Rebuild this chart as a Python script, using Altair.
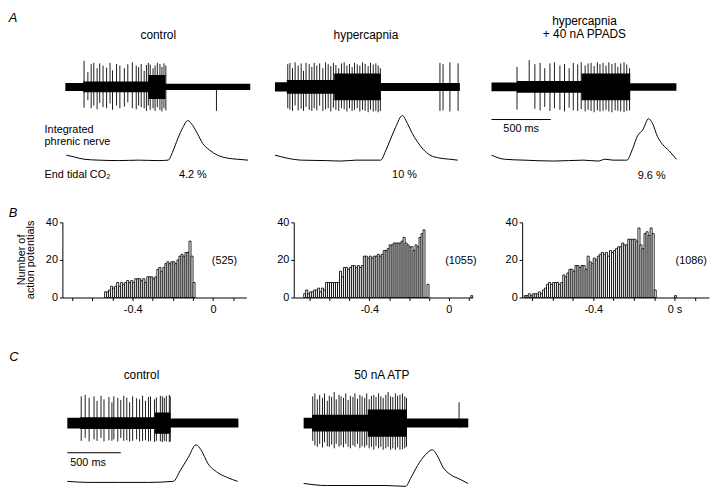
import altair as alt
import pandas as pd

W, H = 712, 491   # chart size (page is 720x499 with an 8px margin)
M = 8

def px(v):
    return v - M

FONT = "Liberation Sans, Arial, DejaVu Sans, sans-serif"

# ---------------- A : nerve recordings (time in ms, amplitude -1..1) ----------------
A1_band_t = [0, 150, 700, 845, 1560]
A1_band_hw = [0.15, 0.2, 0.45, 0.12, 0.12]
A1_sp_t = [158, 190, 218, 240, 268, 290, 318, 348, 377, 398, 432, 460, 498, 527, 565,
           598, 618, 640, 665, 684, 700, 716, 740, 757, 776, 798, 815, 832, 848, 1275]
A1_sp_up = [0.98, 0.55, 0.85, 0.9, 0.7, 0.88, 0.8, 0.72, 0.9, 0.62, 0.86, 0.8, 0.7, 0.85, 0.92,
            0.8, 0.74, 0.86, 0.6, 0.82, 0.9, 0.84, 0.7, 0.8, 0.9, 0.86, 0.75, 0.88, 0.8, 0.1]
A1_sp_dn = [-0.78, -0.5, -0.8, -0.7, -0.84, -0.6, -0.76, -0.8, -0.62, -0.86, -0.7, -0.8, -0.74, -0.58, -0.8,
            -0.84, -0.7, -0.76, -0.8, -0.9, -0.7, -0.86, -0.8, -0.9, -0.76, -0.86, -0.92, -0.8, -0.88, -0.9]
A1_int_t = [8, 75, 158, 283, 450, 617, 783, 867, 908, 950, 992, 1033, 1075, 1117, 1158, 1217, 1283, 1367, 1450, 1542]
A1_int_v = [0.13, 0.09, 0.04, 0.02, 0.01, 0.02, 0.01, 0.02, 0.22, 0.50, 0.74, 0.89, 0.78, 0.59, 0.39, 0.24, 0.13, 0.065, 0.04, 0.02]

A2_band_t = [0, 100, 500, 892, 1560]
A2_band_hw = [0.17, 0.26, 0.5, 0.15, 0.15]
A2_sp_t = [108, 126, 148, 170, 196, 221, 241, 262, 289, 311, 331, 353, 377, 404, 427, 449, 471, 493, 514, 538,
           561, 584, 607, 629, 651, 671, 694, 716, 739, 761, 786, 806, 829, 851, 871, 889, 1392, 1418, 1476, 1545]
A2_sp_up = [0.85, 0.9, 0.7, 0.92, 0.8, 0.88, 0.6, 0.9, 0.85, 0.75, 0.9, 0.8, 0.88, 0.7, 0.92, 0.85, 0.78, 0.9, 0.82, 0.7,
            0.88, 0.92, 0.8, 0.86, 0.74, 0.9, 0.84, 0.8, 0.92, 0.86, 0.78, 0.9, 0.84, 0.88, 0.8, 0.7, 0.9, 0.85, 0.92, 0.88]
A2_sp_dn = [-0.8, -0.85, -0.9, -0.7, -0.88, -0.82, -0.9, -0.75, -0.86, -0.9, -0.8, -0.88, -0.7, -0.9, -0.84, -0.8, -0.92, -0.78, -0.86, -0.9,
            -0.8, -0.84, -0.92, -0.8, -0.9, -0.86, -0.8, -0.92, -0.86, -0.9, -0.95, -0.85, -0.92, -0.9, -0.95, -0.9, -0.9, -0.88, -0.92, -0.9]
A2_int_t = [0, 100, 225, 433, 558, 683, 892, 933, 975, 1017, 1075, 1117, 1158, 1200, 1250, 1308, 1392, 1475, 1542]
A2_int_v = [0.13, 0.065, 0.02, 0.01, 0.0, 0.02, 0.02, 0.22, 0.48, 0.74, 1.0, 0.83, 0.61, 0.43, 0.26, 0.13, 0.065, 0.04, 0.02]

A3_band_t = [0, 215, 760, 1170, 1560]
A3_band_hw = [0.16, 0.22, 0.5, 0.14, 0.14]
A3_sp_t = [215, 318, 366, 410, 449, 493, 531, 577, 616, 655, 690, 727, 757, 790, 815,
           840, 866, 893, 915, 941, 966, 990, 1016, 1043, 1066, 1090, 1118, 1141, 1165]
A3_sp_up = [0.75, 1.0, 0.85, 0.9, 0.7, 0.88, 0.92, 0.8, 0.86, 0.7, 0.9, 0.84, 0.92, 0.8, 0.88,
            0.9, 0.78, 0.92, 0.85, 0.9, 0.8, 0.92, 0.86, 0.9, 0.75, 0.88, 0.92, 0.84, 0.7]
A3_sp_dn = [-0.85, -0.1, -0.82, -0.88, -0.75, -0.9, -0.8, -0.86, -0.92, -0.78, -0.88, -0.9, -0.84, -0.92, -0.86,
            -0.9, -0.95, -0.88, -0.92, -0.9, -0.86, -0.92, -0.95, -0.88, -0.9, -0.92, -0.95, -0.9, -0.88]
A3_int_t = [0, 108, 275, 525, 775, 900, 958, 1025, 1142, 1192, 1233, 1275, 1325, 1358, 1400, 1442, 1500, 1560]
A3_int_v = [0.13, 0.04, 0.02, 0.0, 0.02, 0.0, 0.04, 0.02, 0.02, 0.28, 0.56, 0.68, 0.93, 0.83, 0.54, 0.37, 0.22, 0.04]

# ---------------- C : nerve recordings ----------------
C1_band_t = [0, 120, 820, 965, 1600]
C1_band_hw = [0.18, 0.2, 0.36, 0.15, 0.15]
C1_sp_t = [130, 167, 204, 250, 278, 315, 343, 389, 417, 435, 472, 500, 528, 556, 583,
           611, 648, 676, 704, 731, 759, 778, 815, 833, 870, 889, 907, 926, 954, 963]
C1_sp_up = [0.9, 0.95, 0.85, 0.9, 0.75, 0.92, 0.8, 0.88, 0.7, 0.9, 0.85, 0.78, 0.92, 0.86, 0.7,
            0.9, 0.84, 0.8, 0.92, 0.75, 0.88, 0.9, 0.8, 0.86, 0.92, 0.9, 0.85, 0.92, 0.95, 0.9]
C1_sp_dn = [-0.6, -0.5, -0.62, -0.55, -0.6, -0.5, -0.62, -0.58, -0.6, -0.55, -0.62, -0.5, -0.6, -0.58, -0.62,
            -0.6, -0.55, -0.62, -0.6, -0.58, -0.62, -0.6, -0.64, -0.6, -0.62, -0.64, -0.6, -0.62, -0.64, -0.62]
C1_int_t = [0, 204, 481, 759, 991, 1056, 1130, 1204, 1250, 1315, 1407, 1500, 1593]
C1_int_v = [0.12, 0.095, 0.095, 0.095, 0.12, 0.38, 0.69, 1.0, 0.88, 0.55, 0.33, 0.21, 0.12]

C2_band_t = [0, 80, 600, 965, 1540]
C2_band_hw = [0.18, 0.28, 0.46, 0.15, 0.15]
C2_sp_t = [85, 105, 128, 150, 176, 195, 221, 240, 262, 286, 305, 331, 350, 373, 394, 416, 437, 461, 480, 504, 526,
           547, 571, 590, 613, 634, 656, 677, 701, 722, 744, 769, 790, 813, 834, 858, 879, 901, 924, 946, 962, 1454]
C2_sp_up = [0.9, 1.0, 0.8, 0.95, 0.85, 1.0, 0.75, 0.92, 0.88, 1.05, 0.8, 0.95, 0.9, 0.85, 1.0, 0.78, 0.92, 0.88, 1.0, 0.82, 0.95,
            0.9, 0.85, 1.0, 0.8, 0.92, 0.95, 0.88, 1.0, 0.9, 0.85, 0.95, 1.05, 0.9, 0.88, 1.0, 0.92, 0.95, 1.0, 0.9, 0.85, 0.7]
C2_sp_dn = [-0.6, -0.75, -0.8, -0.7, -0.82, -0.65, -0.78, -0.8, -0.72, -0.85, -0.7, -0.8, -0.75, -0.82, -0.7, -0.8, -0.85, -0.75, -0.8, -0.7, -0.85,
            -0.78, -0.82, -0.75, -0.85, -0.8, -0.9, -0.78, -0.85, -0.8, -0.9, -0.85, -0.8, -0.9, -0.85, -0.9, -0.82, -0.9, -0.88, -0.85, -0.8, -0.15]
C2_int_t = [0, 213, 491, 769, 954, 1000, 1065, 1139, 1204, 1250, 1306, 1370, 1463, 1537]
C2_int_v = [0.07, 0.02, 0.02, 0.02, 0.0, 0.19, 0.5, 0.76, 0.88, 0.74, 0.45, 0.29, 0.17, 0.07]

SCALEBAR_MS = [0, 500]

# ---------------- B : histograms (bin width 0.01 s) ----------------
BIN = 0.01
B1_start = -0.54
B1_n = [3, 3, 4, 6, 5, 6, 8, 6, 8, 7, 8, 9, 8, 9, 8, 10, 10, 10, 9, 10, 8, 11, 11, 11, 10, 11, 15, 16, 14, 16,
        18, 19, 18, 19, 19, 18, 20, 22, 23, 22, 24, 24, 30, 22, 8]
B2_start = -0.73
B2_n = [2, 4, 2, 3, 3, 4, 4, 5, 3, 5, 4, 8, 8, 8, 8, 8, 8, 8, 14, 11, 16, 16, 15, 16, 17, 17, 16, 17, 16, 17,
        22, 22, 21, 22, 21, 22, 22, 23, 22, 23, 25, 25, 26, 28, 28, 29, 29, 29, 29, 30, 32,
        29, 28, 27, 27, 25, 28, 27, 32, 34, 36, 0, 7]
B2_extra_t, B2_extra_n = [0.11], [1]
B3_start = -0.74
B3_n = [1, 1, 2, 1, 2, 2, 2, 3, 2, 4, 5, 7, 8, 7, 8, 8, 8, 7, 8, 12, 11, 13, 15, 15, 14, 17, 17, 16, 17, 17, 15,
        22, 19, 18, 21, 20, 22, 23, 24, 23, 24, 22, 25, 24, 25, 26, 27, 27, 29, 28, 28, 31, 31, 31, 31, 30, 37,
        28, 26, 34, 35, 33, 37, 34, 4]
B3_extra_t, B3_extra_n = [0.0], [1]
B_totals = ["(525)", "(1055)", "(1086)"]
B_ticks = [-0.7, -0.6, -0.5, -0.4, -0.3, -0.2, -0.1, 0.0, 0.1]

# ---------------- builders ----------------
def trace(band_t, band_hw, sp_t, up, dn, int_t, int_v, xdom, xr, yr, yir):
    xs = alt.Scale(domain=xdom, range=[px(xr[0]), px(xr[1])], nice=False)
    ys = alt.Scale(domain=[-1, 1], range=[px(yr[0]), px(yr[1])], nice=False)
    yis = alt.Scale(domain=[0, 1], range=[px(yir[0]), px(yir[1])], nice=False)
    band = pd.DataFrame({"t": band_t, "hi": band_hw})
    band["lo"] = -band["hi"]
    sp = pd.DataFrame({"t": sp_t, "up": up, "dn": dn})
    ig = pd.DataFrame({"t": int_t, "v": int_v})
    l1 = alt.Chart(band).mark_area(color="black", interpolate="step-after").encode(
        x=alt.X("t:Q", scale=xs, axis=None),
        y=alt.Y("lo:Q", scale=ys, axis=None), y2="hi:Q")
    l2 = alt.Chart(sp).mark_rule(color="black", strokeWidth=0.9).encode(
        x=alt.X("t:Q", scale=xs, axis=None),
        y=alt.Y("dn:Q", scale=ys, axis=None), y2="up:Q")
    l3 = alt.Chart(ig).mark_line(color="black", strokeWidth=1, interpolate="monotone").encode(
        x=alt.X("t:Q", scale=xs, axis=None),
        y=alt.Y("v:Q", scale=yis, axis=None))
    return [l1, l2, l3], xs

def hist(start, counts, extra_t, extra_n, xdom, xr, zero_label):
    xs = alt.Scale(domain=xdom, range=[px(xr[0]), px(xr[1])], nice=False)
    ys = alt.Scale(domain=[0, 40], range=[px(298), px(222)], nice=False)
    t0 = [round(start + i * BIN, 3) for i in range(len(counts))] + list(extra_t)
    n = list(counts) + list(extra_n)
    df = pd.DataFrame({"t0": t0, "n": n})
    df["t1"] = df["t0"] + BIN
    df["z"] = 0
    lab = ("abs(datum.value) < 1e-6 ? '%s' : (abs(datum.value + 0.4) < 1e-6 ? '-0.4' : '')" % zero_label)
    return alt.Chart(df).mark_bar(fill="white", stroke="black", strokeWidth=0.85).encode(
        x=alt.X("t0:Q", scale=xs,
                axis=alt.Axis(orient="bottom", offset=px(298) - H, values=B_ticks, labelExpr=lab,
                              title=None, grid=False, tickSize=3, labelPadding=3,
                              domainColor="black", tickColor="black", labelColor="black",
                              labelFont=FONT, labelFontSize=11, labelFlush=False)),
        x2="t1:Q",
        y=alt.Y("n:Q", scale=ys,
                axis=alt.Axis(orient="left", offset=-px(xr[0]), values=[0, 20, 40],
                              title=None, grid=False, tickSize=3, labelPadding=2,
                              domainColor="black", tickColor="black", labelColor="black",
                              labelFont=FONT, labelFontSize=11, labelFlush=False)),
        y2="z:Q")

def txt(s, x, y, size=11, align="center", italic=False, angle=0):
    kw = dict(text=s, font=FONT, fontSize=size, align=align, baseline="middle", color="black")
    if italic:
        kw["fontStyle"] = "italic"
    if angle:
        kw["angle"] = angle
    return alt.Chart(pd.DataFrame({"k": [s]})).mark_text(**kw).encode(
        x=alt.value(px(x)), y=alt.value(px(y)))

def scalebar(xs, y):
    df = pd.DataFrame({"a": [SCALEBAR_MS[0]], "b": [SCALEBAR_MS[1]]})
    return alt.Chart(df).mark_rule(color="black", strokeWidth=1).encode(
        x=alt.X("a:Q", scale=xs, axis=None), x2="b:Q", y=alt.value(px(y)))

layers = []
A_dom = [0, 1560]
C_dom = [0, 1600]
a1, _ = trace(A1_band_t, A1_band_hw, A1_sp_t, A1_sp_up, A1_sp_dn, A1_int_t, A1_int_v, A_dom, [66, 253], [112, 58], [160, 114])
a2, _ = trace(A2_band_t, A2_band_hw, A2_sp_t, A2_sp_up, A2_sp_dn, A2_int_t, A2_int_v, A_dom, [278, 465], [112, 58], [160, 114])
a3, xa3 = trace(A3_band_t, A3_band_hw, A3_sp_t, A3_sp_up, A3_sp_dn, A3_int_t, A3_int_v, A_dom, [497, 684], [112, 58], [160, 114])
c1, xc1 = trace(C1_band_t, C1_band_hw, C1_sp_t, C1_sp_up, C1_sp_dn, C1_int_t, C1_int_v, C_dom, [68, 241], [455, 395], [489, 447])
c2, _ = trace(C2_band_t, C2_band_hw, C2_sp_t, C2_sp_up, C2_sp_dn, C2_int_t, C2_int_v, C_dom, [307, 480], [455, 395], [489, 447])
layers += a1 + a2 + a3 + c1 + c2
layers.append(scalebar(xa3, 118))
layers.append(scalebar(xc1, 455))

layers.append(hist(B1_start, B1_n, [], [], [-0.75, 0.165], [63, 249], "0"))
layers.append(hist(B2_start, B2_n, B2_extra_t, B2_extra_n, [-0.78, 0.12], [297, 478], "0"))
layers.append(hist(B3_start, B3_n, B3_extra_t, B3_extra_n, [-0.75, 0.17], [528, 717], "0 s"))

texts = [
    txt("A", 13, 15, 13, italic=True),
    txt("control", 160, 33, 12),
    txt("hypercapnia", 370, 33, 12),
    txt("hypercapnia", 591, 18, 12),
    txt("+ 40 nA PPADS", 591, 32, 12),
    txt("500 ms", 527, 128, 11),
    txt("Integrated", 45, 129, 11, align="left"),
    txt("phrenic nerve", 45, 141, 11, align="left"),
    txt("End tidal CO\u2082", 45, 174, 11, align="left"),
    txt("4.2 %", 195, 174, 11),
    txt("10 %", 409, 174, 11),
    txt("9.6 %", 659, 175, 11),
    txt("B", 13, 213, 13, italic=True),
    txt("Number of", 22, 260, 11, angle=270),
    txt("action potentials", 31, 260, 11, angle=270),
    txt(B_totals[0], 227, 261, 11),
    txt(B_totals[1], 466, 261, 11),
    txt(B_totals[2], 699, 261, 11),
    txt("C", 14, 358, 13, italic=True),
    txt("control", 143, 376, 12),
    txt("50 nA ATP", 386, 376, 12),
    txt("500 ms", 89, 465, 11),
]
layers += texts

chart = alt.layer(*layers).resolve_scale(x="independent", y="independent").properties(
    width=W, height=H, padding=0, autosize=alt.AutoSizeParams(type="none"), background="white"
).configure_view(stroke="transparent")

chart.save("out.html", embed_options={"renderer": "svg", "actions": False})
